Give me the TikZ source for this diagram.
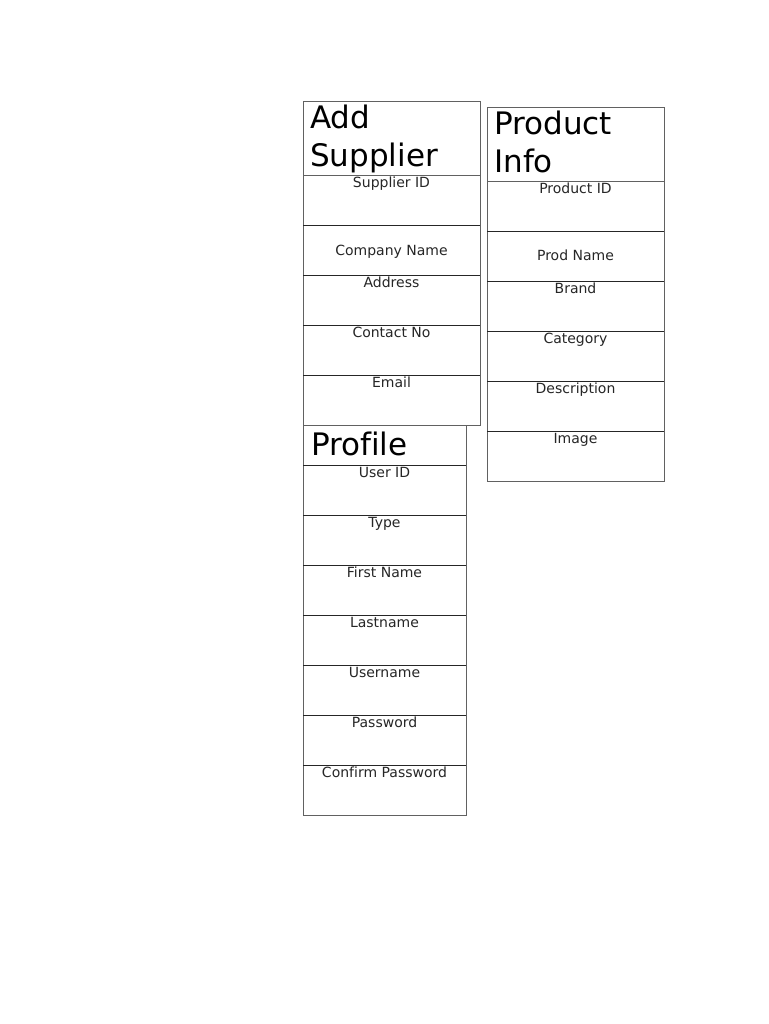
\documentclass[tikz,border=0pt]{standalone}
\usepackage{fontspec}
\setmainfont[Ligatures=NoCommon]{DejaVu Sans}
\begin{document}
\begin{tikzpicture}[x=1pt,y=-1pt,
  frame/.style={draw=black!62,line width=0.9pt,fill=white},
  sep/.style={draw=black!85,line width=0.9pt},
  lbl/.style={anchor=base,inner sep=0pt,font=\fontsize{14}{16}\selectfont,text=black!85},
  head/.style={anchor=base west,inner sep=0pt,font=\fontsize{31}{36}\selectfont,text=black}]
\useasboundingbox (0,0) rectangle (768,1024);
\fill[white] (0,0) rectangle (768,1024);
% Profile table
\draw[frame] (303,425) rectangle (466,815);
\foreach \y in {465,515,565,615,665,715,765} \draw[sep] (303,\y) -- (466,\y);
\node[head] (profh) at (311,455) {Profile};
\node[lbl] (p1) at (384.5,477) {User ID};
\node[lbl] (p2) at (384.5,527) {Type};
\node[lbl] (p3) at (384.5,577) {First Name};
\node[lbl] (p4) at (384.5,627) {Lastname};
\node[lbl] (p5) at (384.5,677) {Username};
\node[lbl] (p6) at (384.5,727) {Password};
\node[lbl] (p7) at (384.5,777) {Confirm Password};
% Add Supplier table
\draw[frame] (303,101) rectangle (480,425);
\draw[frame,fill=none] (303,175) -- (480,175);
\foreach \y in {225,275,325,375} \draw[sep] (303,\y) -- (480,\y);
\node[head] (suph1) at (310,128.5) {Add};
\node[head] (suph2) at (310,167) {Supplier};
\node[lbl] (s1) at (391.5,188) {Supplier ID};
\node[lbl] (s2) at (391.5,255) {Company Name};
\node[lbl] (s3) at (391.5,287.5) {Address};
\node[lbl] (s4) at (391.5,337.5) {Contact No};
\node[lbl] (s5) at (391.5,387.5) {Email};
% Product Info table
\draw[frame] (487,107) rectangle (664,481);
\draw[frame,fill=none] (487,181) -- (664,181);
\foreach \y in {231,281,331,381,431} \draw[sep] (487,\y) -- (664,\y);
\node[head] (prh1) at (494,134.5) {Product};
\node[head] (prh2) at (494,173) {Info};
\node[lbl] (r1) at (575.5,194) {Product ID};
\node[lbl] (r2) at (575.5,260.5) {Prod Name};
\node[lbl] (r3) at (575.5,293.5) {Brand};
\node[lbl] (r4) at (575.5,343.5) {Category};
\node[lbl] (r5) at (575.5,393.5) {Description};
\node[lbl] (r6) at (575.5,443) {Image};
\end{tikzpicture}
\end{document}
